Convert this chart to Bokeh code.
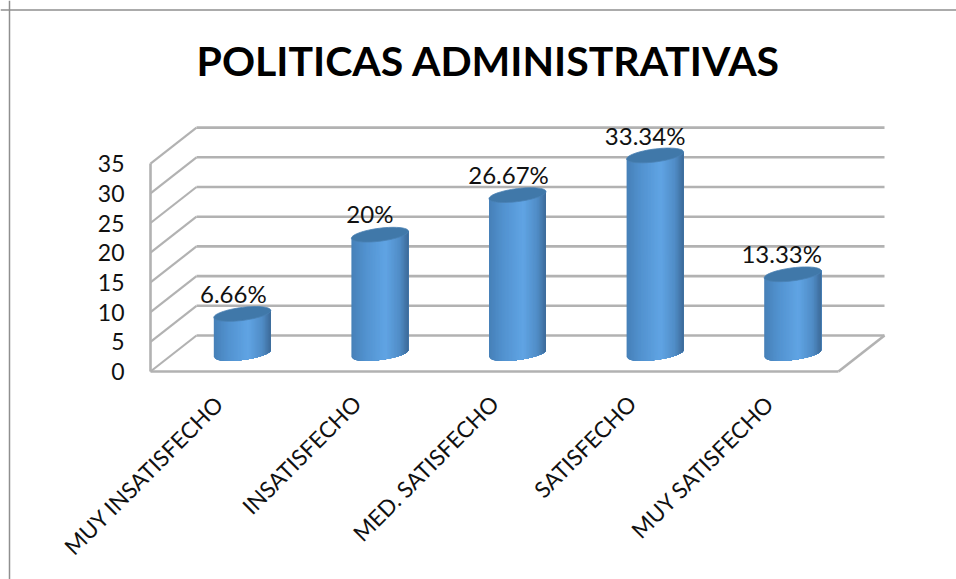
import math
from bokeh.plotting import figure
from bokeh.embed import file_html
from bokeh.resources import INLINE
from bokeh.core.properties import value
from bokeh.models import FixedTicker, Label, Span

TITLE = "POLITICAS ADMINISTRATIVAS"
categories = ["MUY INSATISFECHO", "INSATISFECHO", "MED. SATISFECHO", "SATISFECHO", "MUY SATISFECHO"]
values = [6.66, 20, 26.67, 33.34, 13.33]
value_labels = ["6.66%", "20%", "26.67%", "33.34%", "13.33%"]
y_ticks = [0, 5, 10, 15, 20, 25, 30, 35]

WIDTH, HEIGHT = 956, 579
FONT = "Lato"
PX_X = 137.6          # pixels per category
PX_Y = 5.94           # pixels per value unit
LEFT_PX, BASE_PX = 150, 371
DEPTH_X = 46 / PX_X   # depth of the 3D box in data units
DEPTH_Y = 36 / PX_Y
GRID = "#b2b2b2"

p = figure(
    width=WIDTH, height=HEIGHT, output_backend="svg", toolbar_location=None,
    x_range=(-LEFT_PX / PX_X, (WIDTH - LEFT_PX) / PX_X),
    y_range=(-(HEIGHT - BASE_PX) / PX_Y, BASE_PX / PX_Y),
    min_border=0,
)
p.outline_line_color = None
p.xgrid.visible = False
p.ygrid.visible = False
p.background_fill_color = "white"

# Axes pinned to the front edges of the box
p.yaxis.fixed_location = 0
p.yaxis.ticker = FixedTicker(ticks=y_ticks)
p.yaxis.axis_line_color = None
p.yaxis.major_tick_line_color = None
p.yaxis.minor_tick_line_color = None
p.yaxis.major_label_standoff = 20
p.yaxis.major_label_text_font = FONT
p.yaxis.major_label_text_font_size = "23px"
p.yaxis.major_label_text_color = "#111111"

p.xaxis.fixed_location = 0
p.xaxis.ticker = FixedTicker(ticks=[i + 0.5 for i in range(len(categories))])
p.xaxis.major_label_overrides = {i + 0.5: c for i, c in enumerate(categories)}
p.xaxis.major_label_orientation = math.pi / 4
p.xaxis.axis_line_color = None
p.xaxis.major_tick_line_color = None
p.xaxis.minor_tick_line_color = None
p.xaxis.major_label_standoff = 22
p.xaxis.major_label_text_font = FONT
p.xaxis.major_label_text_font_size = "22.5px"
p.xaxis.major_label_text_color = "#111111"

# Chart-area border (top and left edges)
p.add_layout(Span(location=9, location_units="screen", dimension="height", line_color="#8f8f8f", line_width=1.5))
p.add_layout(Span(location=HEIGHT - 9.5, location_units="screen", dimension="width", line_color="#8f8f8f", line_width=1.5))

# Walls of the 3D box
n = len(categories)
top = y_ticks[-1]
p.segment([DEPTH_X] * len(y_ticks), [t + DEPTH_Y for t in y_ticks],
          [n + DEPTH_X] * len(y_ticks), [t + DEPTH_Y for t in y_ticks],
          line_color=GRID, line_width=2.6)
p.segment([0] * len(y_ticks), y_ticks, [DEPTH_X] * len(y_ticks), [t + DEPTH_Y for t in y_ticks],
          line_color=GRID, line_width=2.2)
p.segment([0, 0, n], [0, 0, 0], [0, n, n + DEPTH_X], [top, 0, DEPTH_Y],
          line_color=GRID, line_width=2.6)


def shade(t):
    """Horizontal shading of a cylinder, t running from -1 to 1."""
    stops = [(-1, (70, 128, 184)), (-0.5, (82, 146, 207)), (0.2, (96, 164, 228)),
             (0.7, (80, 140, 198)), (1, (60, 106, 152))]
    for (a, ca), (b, cb) in zip(stops, stops[1:]):
        if t <= b:
            f = (t - a) / (b - a)
            return "#%02x%02x%02x" % tuple(round(x + (y - x) * f) for x, y in zip(ca, cb))
    return "#3c6a98"


# Cylinders: each strip reaches the right edge and the next one paints over it,
# so the shading has no seams. A tilted elliptical cap closes the top.
HALF_W = 28.5 / PX_X
TILT = 3.5 / PX_Y
MINOR = 6.5 / PX_Y
STRIPS = 40
xs, ys, colours = [], [], []
cap_xs, cap_ys = [], []
for i, v in enumerate(values):
    cx = i + 0.5 + DEPTH_X / 2
    base = DEPTH_Y / 2
    for s in range(STRIPS):
        start = -1 + 2 * s / STRIPS
        ts = [start + (1 - start) * k / 40 for k in range(41)]
        top_edge = [v + base + TILT * t for t in ts]
        bot_edge = [base + TILT * t - MINOR * math.sqrt(max(0, 1 - t * t)) for t in ts]
        xs.append([cx + HALF_W * t for t in ts] + [cx + HALF_W * t for t in reversed(ts)])
        ys.append(top_edge + list(reversed(bot_edge)))
        colours.append(shade(start + 1 / STRIPS))
    angles = [2 * math.pi * a / 60 for a in range(60)]
    cap_xs.append([cx + HALF_W * math.cos(a) for a in angles])
    cap_ys.append([v + base + TILT * math.cos(a) + MINOR * math.sin(a) for a in angles])

p.patches(xs, ys, fill_color=colours, line_color=None)
p.patches(cap_xs, cap_ys, fill_color="#4078a9", line_color="#4a82b4", line_width=0.8)

# Value labels sit above each cap
label_shift = [-9, -10, -9, -10, -11]
label_lift = [20, 21, 21, 20, 21]
p.text(
    [i + 0.5 + DEPTH_X / 2 + label_shift[i] / PX_X for i in range(n)],
    [values[i] + DEPTH_Y / 2 + label_lift[i] / PX_Y for i in range(n)],
    text=value_labels, text_font=value(FONT), text_font_size="24px", text_color="#111111",
    text_align="center", text_baseline="middle",
)

p.add_layout(Label(
    x=(488 - LEFT_PX) / PX_X, y=(BASE_PX - 60) / PX_Y, text=TITLE,
    text_font=FONT, text_font_size="41px", text_font_style="bold", text_color="#000000",
    text_align="center", text_baseline="middle",
))

open("out.html", "w").write(file_html(p, INLINE))
